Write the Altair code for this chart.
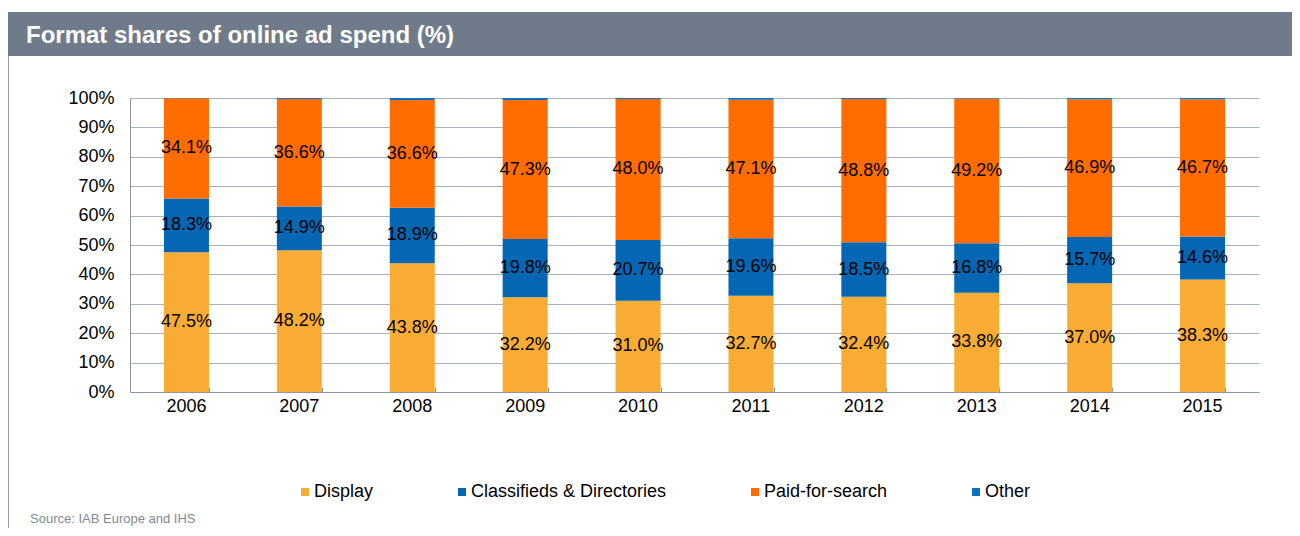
import altair as alt
import pandas as pd

years = ["2006", "2007", "2008", "2009", "2010", "2011", "2012", "2013", "2014", "2015"]
display = [47.5, 48.2, 43.8, 32.2, 31.0, 32.7, 32.4, 33.8, 37.0, 38.3]
classifieds = [18.3, 14.9, 18.9, 19.8, 20.7, 19.6, 18.5, 16.8, 15.7, 14.6]
paid_search = [34.1, 36.6, 36.6, 47.3, 48.0, 47.1, 48.8, 49.2, 46.9, 46.7]
other = [0.1, 0.3, 0.7, 0.7, 0.3, 0.6, 0.3, 0.2, 0.4, 0.4]

series_names = ["Display", "Classifieds & Directories", "Paid-for-search", "Other"]
series_colors = ["#F9AC34", "#0566B4", "#FF6D00", "#0A72C0"]
y_ticks = [0, 10, 20, 30, 40, 50, 60, 70, 80, 90, 100]

title_text = "Format shares of online ad spend (%)"
source_text = "Source: IAB Europe and IHS"

rows = []
for i, y in enumerate(years):
    for k, (name, vals) in enumerate(zip(series_names, [display, classifieds, paid_search, other])):
        rows.append({"year": y, "series": name, "value": vals[i], "order": k})
df = pd.DataFrame(rows)

W, H = 1129, 294
PAD = {"left": 122, "top": 90, "right": 33, "bottom": 136}

x_enc = alt.X(
    "year:N",
    sort=years,
    scale=alt.Scale(paddingInner=0.6, paddingOuter=0.3),
    axis=alt.Axis(
        title=None, labelAngle=0, labelFontSize=18, labelColor="#000000",
        labelPadding=5, ticks=False, domainColor="#8E969F", grid=False,
    ),
)

y_scale = alt.Scale(domain=[0, 100], nice=False, zero=True)


def y_axis():
    return alt.Axis(
        title=None, values=y_ticks, tickCount=11, labelExpr="datum.value + '%'",
        labelFontSize=18, labelColor="#000000", labelPadding=16,
        labelOverlap=False, ticks=False, domainColor="#8E969F",
        gridColor="#A9B1BA", gridWidth=1,
    )


base = alt.Chart(df)

bars = base.mark_bar(size=45).encode(
    x=x_enc,
    y=alt.Y("value:Q", stack="zero", scale=y_scale, axis=y_axis()),
    color=alt.Color(
        "series:N",
        scale=alt.Scale(domain=series_names, range=series_colors),
        legend=alt.Legend(
            title=None, orient="none", legendX=166, legendY=385,
            direction="horizontal", columns=4, symbolType="square",
            symbolSize=64, symbolStrokeWidth=0, labelFontSize=18,
            labelColor="#000000", labelOffset=0, columnPadding=79,
            padding=0, labelLimit=400,
        ),
    ),
    order=alt.Order("order:Q", sort="ascending"),
)

labels = base.transform_stack(
    stack="value", groupby=["year"], as_=["y0", "y1"],
    sort=[alt.SortField("order", order="ascending")],
).transform_calculate(
    mid="(datum.y0 + datum.y1) / 2",
    label="format(datum.value, '.1f') + '%'",
).transform_filter(
    "datum.series != 'Other'"
).mark_text(fontSize=18, color="#000000", baseline="middle", align="center").encode(
    x=alt.X("year:N", sort=years,
            axis=alt.Axis(orient="top", offset=-H, labels=False, domain=False,
                          ticks=True, tickBand="extent", tickSize=5,
                          tickColor="#8E969F", title=None, grid=False)),
    y=alt.Y("mid:Q", scale=y_scale, axis=y_axis()),
    text="label:N",
)

one = pd.DataFrame({"t": [title_text], "s": [source_text]})

header = alt.Chart(one).mark_rect(color="#6F7B8A").encode(
    x=alt.value(-PAD["left"]), x2=alt.value(W + PAD["right"]),
    y=alt.value(-86), y2=alt.value(-42),
)
border = alt.Chart(one).mark_rule(color="#9A9A9A", strokeWidth=1).encode(
    x=alt.value(-PAD["left"] + 0.5), y=alt.value(-42), y2=alt.value(H + PAD["bottom"]),
)
title = alt.Chart(one).mark_text(
    fontSize=24, fontWeight="bold", color="#FFFFFF", align="left", baseline="alphabetic",
).encode(x=alt.value(-104), y=alt.value(-55), text="t:N")
source = alt.Chart(one).mark_text(
    fontSize=13, color="#7F8A96", align="left", baseline="alphabetic",
).encode(x=alt.value(-100), y=alt.value(425), text="s:N")

chart = alt.layer(header, border, title, source, bars, labels).resolve_axis(
    x="independent"
).properties(
    width=W, height=H, padding=PAD, autosize="none",
).configure(
    font="Liberation Sans", background="#FFFFFF",
).configure_view(stroke=None)

chart.save("out.html", embed_options={"renderer": "svg", "actions": False})
